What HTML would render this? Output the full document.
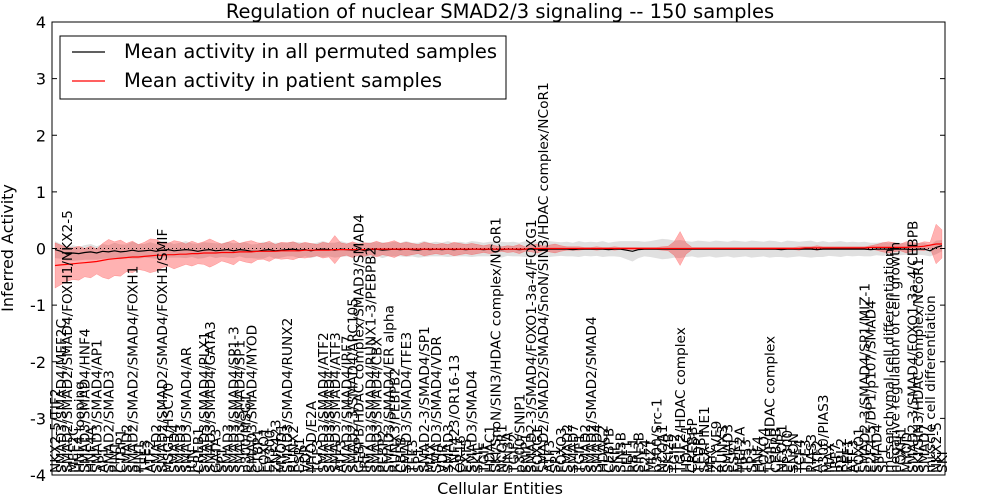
<!DOCTYPE html>
<html><head><meta charset="utf-8"><style>
html,body{margin:0;padding:0;background:#fff;}
svg{display:block;font-family:"DejaVu Sans","Liberation Sans",sans-serif;}
</style></head><body>
<svg id="chart" width="1000" height="500" viewBox="0 0 1000 500" xmlns="http://www.w3.org/2000/svg">
<rect x="0" y="0" width="1000" height="500" fill="#fff"/>
<text x="500" y="18" font-size="19.5" text-anchor="middle">Regulation of nuclear SMAD2/3 signaling -- 150 samples</text>
<g id="bands"></g>
<g id="lines"></g>
<g id="xlabels"></g>
<g id="yaxis"></g>
<rect x="52" y="22" width="893" height="453" fill="none" stroke="#000" stroke-width="1"/>
<text x="500" y="494" font-size="16" text-anchor="middle">Cellular Entities</text>
<text transform="translate(13,248) rotate(-90)" font-size="16" text-anchor="middle">Inferred Activity</text>
<g>
<rect x="60" y="36" width="446" height="63" fill="#fff" stroke="#000" stroke-width="1"/>
<line x1="72" y1="52" x2="105" y2="52" stroke="#000" stroke-width="1.2"/>
<text x="124" y="58" font-size="19.5">Mean activity in all permuted samples</text>
<line x1="72" y1="81" x2="105" y2="81" stroke="#f00" stroke-width="1.2"/>
<text x="124" y="87" font-size="19.5">Mean activity in patient samples</text>
</g>
</svg>
<script>
const yTicks = [4,3,2,1,0,-1,-2,-3,-4];
const labels = [
"NKX2-5/TIF2","SMAD3/SMAD4/MEF2C","SMAD2/SMAD2/SMAD4/FOXH1/NKX2-5","MEF2C","HNF4 looping","SMAD3/SMAD4/HNF4","HNF4A","SMAD3/SMAD4/AP1","AP1","SMAD2/SMAD3","PIN1","CTBP1","SMAD2","SMAD2/SMAD2/SMAD4/FOXH1","PIN1",
"TFE3","ATF2","SMAD2","SMAD2/SMAD2/SMAD4/FOXH1/SMIF","MSG1/HSC70","SMAD4","SMAD3","SMAD3/SMAD4/AR","JUN","CREB1","SMAD3/SMAD4/PLX1","SMAD3/SMAD4/GATA3","GATA3","SP1","SMAD3",
"SMAD3/SMAD4/SP1-3","SMAD3/SMAD4/SP1","p300/MSG1","SMAD3/SMAD4/MYOD","CTBP1","FOXO1","EP300","ZNF423","MYOD1","SMAD3/SMAD4/RUNX2","RUNX2","ESR1","VDR","MYOD/E2A","TCF3",
"SMAD3/SMAD4/ATF2","SMAD3/SMAD4","SMAD3/SMAD4/ATF3","ATF3","SMAD3/SMAD4/IRF7","SMAD2-3/SMAD4/ARC105","CEBPB/HDAC complex/SMAD3/SMAD4","IRF7","SMAD3/SMAD4/RUNX1-3/PEBPB2","SMAD3/SMAD4/CBX","PEBP2","SMAD3/SMAD4/ER alpha","RUNX3/PEBPB2","CBFB","SMAD3/SMAD4/TFE3",
"TFE3","SP1","SMAD2-3/SMAD4/SP1","MAX","SMAD3/SMAD4/VDR","VDR","SMAD3","ZNF423/OR16-13","OR16","EXT5","SMAD3/SMAD4","SKIL","TGIF","HDAC1","SKI/SnoN/SIN3/HDAC complex/NCoR1",
"NCOR1","SIN3A","TGIF2","p300/SNIP1","SNIP1","SMAD2-3/SMAD4/FOXO1-3a-4/FOXG1","FOXG1","SMAD2/SMAD2/SMAD4/SnoN/SIN3/HDAC complex/NCoR1","ATF3","SP1","FOXO3","SMAD2","SMAD7","TGIF1","SMAD2",
"SMAD2/SMAD2/SMAD4","SMAD4","HDAC2","CEBPB","SKIL","SIN3B","LEF1","RBL1","SIN3B","E2F4","MIZ1","p300/Src-1","NCOA1","SKI2B","TGIF2",
"TGIF2/HDAC complex","HDAC1","CREBBP","TFDP1","SERPINE1","MYC","ZFYVE9","RUNX3","SMAD3","ESR1","MEF2A","TP53","SP3","HNF4","FOXO4",
"TGIF/HDAC complex","CEBPB","NCOR1","EP300","SNON","TCF4","TFE3","PIAS3","ATF2","p300/PIAS3","MAX","IRF7","RBL2","EEF1","ATF3",
"FOXO1","SMAD2-3/SMAD4/SP1/MIZ-1","E2F4-5/DP1/p107/SMAD4","SMAD4","SP1","mesenchymal cell differentiation","negative regulation of cell growth","FOXH1","MYOD","SMAD2-3/SMAD4/FOXO1-3a-4/CEBPB","SKI/SIN3/HDAC complex/NCoR1","SMAD7","muscle cell differentiation","NKX2-5","SKI"
];
const redMean = [
-.30,-.29,-.28,-.27,-.26,-.25,-.24,-.23,-.21,-.19,-.18,-.17,-.16,-.15,-.15,
-.14,-.13,-.12,-.12,-.11,-.11,-.10,-.10,-.09,-.09,-.08,-.08,-.08,-.07,-.07,
-.07,-.06,-.06,-.06,-.05,-.05,-.05,-.05,-.04,-.04,-.04,-.04,-.03,-.03,-.03,
-.03,-.03,-.02,-.02,-.02,-.02,-.02,-.02,-.01,-.01,-.01,-.01,-.01,-.01,-.01,
-.01,-.01,-.01,-.01,-.01,-.01,-.01,-.01,-.01,-.01,-.01,-.01,-.01,-.01,-.01,
-.01,-.01,-.01,-.01,-.01,0,0,0,0,0,0,0,0,0,0,
0,0,0,0,0,0,0,0,0,0,0,0,0,0,0,
0,0,0,0,0,0,0,0,0,0,0,0,0,0,0,
0,0,0,0,0,0,.01,.01,.01,.01,.01,.01,.01,.01,.01,
.01,.01,.02,.02,.02,.02,.02,.02,.02,.03,.03,.04,.06,.08,.08];
const redHalf = [
.40,.35,.30,.28,.30,.25,.28,.22,.30,.35,.30,.32,.25,.28,.22,
.25,.30,.28,.22,.20,.25,.22,.18,.22,.18,.20,.25,.20,.15,.18,
.22,.15,.18,.20,.15,.14,.18,.12,.15,.14,.16,.12,.14,.12,.10,
.14,.12,.25,.12,.10,.14,.10,.12,.10,.14,.10,.12,.15,.10,.12,
.10,.08,.12,.10,.08,.10,.08,.12,.10,.08,.10,.08,.06,.08,.06,
.04,.06,.05,.08,.04,.06,.08,.04,.06,.08,.05,.03,.03,.03,.02,
.02,.03,.02,.02,.03,.02,.02,.02,.02,.02,.02,.02,.03,.04,.12,
.30,.10,.02,.02,.02,.02,.02,.02,.02,.02,.02,.02,.02,.02,.02,
.02,.02,.02,.02,.02,.03,.02,.02,.04,.02,.02,.02,.02,.02,.02,
.02,.02,.03,.05,.08,.10,.08,.06,.10,.08,.06,.08,.05,.35,.25];
const blackMean = [
-.02,-.05,-.10,-.08,-.09,-.07,-.06,-.08,-.05,-.06,-.04,-.06,-.05,-.03,-.05,
-.04,-.03,-.05,-.03,-.02,-.04,-.03,-.02,-.03,-.05,-.03,-.02,-.04,-.03,-.02,
-.04,-.02,-.03,-.05,-.05,-.03,-.02,-.04,-.03,-.02,-.01,-.03,-.02,-.04,-.02,
-.01,-.02,-.03,-.01,-.02,-.03,-.01,-.04,-.02,-.01,-.03,-.02,-.01,-.02,-.01,
-.02,-.03,-.01,-.02,-.01,-.02,-.01,-.02,-.01,-.02,-.01,-.01,-.02,-.01,-.01,
-.02,-.01,-.01,-.02,-.01,-.01,-.01,-.02,-.01,-.01,-.01,-.01,-.02,-.01,-.01,
-.01,-.01,-.01,-.02,-.01,-.01,-.03,-.05,-.02,-.01,-.01,-.01,-.01,-.01,-.01,
-.01,-.01,-.01,-.01,-.01,-.01,-.01,-.01,-.01,-.01,-.01,-.01,-.01,-.01,-.01,
-.01,-.01,-.02,-.01,-.01,-.01,-.01,-.01,-.02,-.01,-.01,-.01,-.01,-.01,-.01,
-.01,-.01,-.02,-.01,-.01,-.01,-.01,-.01,-.01,-.02,-.01,-.01,-.04,.02,.05];
const grayHalf = [
.15,.13,.12,.14,.12,.13,.14,.12,.13,.12,.14,.13,.12,.15,.13,
.12,.14,.13,.12,.14,.12,.13,.15,.12,.13,.14,.12,.13,.12,.14,
.13,.12,.14,.12,.13,.15,.12,.14,.13,.12,.13,.14,.12,.13,.12,
.14,.12,.13,.14,.12,.13,.12,.14,.13,.12,.14,.12,.13,.12,.14,
.12,.13,.14,.12,.13,.12,.14,.12,.13,.12,.14,.13,.12,.13,.12,
.14,.12,.13,.12,.14,.12,.13,.12,.14,.13,.12,.13,.12,.14,.12,
.13,.12,.14,.12,.13,.14,.16,.18,.15,.13,.14,.16,.18,.17,.15,
.16,.14,.13,.15,.14,.13,.15,.14,.13,.15,.14,.13,.15,.14,.13,
.15,.14,.13,.15,.14,.13,.14,.15,.13,.14,.12,.13,.14,.12,.13,
.12,.13,.12,.11,.12,.11,.12,.11,.10,.11,.10,.11,.10,.12,.10];

const NS = "http://www.w3.org/2000/svg";
const L = 52, R = 945, T = 22, B = 475, YMIN = -4, YMAX = 4;
const n = redMean.length;
function xs(i){ return L + (i + 0.5) * (R - L) / n; }
function ys(v){ return B - (v - YMIN) / (YMAX - YMIN) * (B - T); }
function mk(tag, attrs){ const e = document.createElementNS(NS, tag); for (const k in attrs) e.setAttribute(k, attrs[k]); return e; }
function bandPath(mean, half){
  let up = [], dn = [];
  for (let i = 0; i < mean.length; i++){ up.push(xs(i).toFixed(1) + "," + ys(mean[i] + half[i]).toFixed(1)); }
  for (let i = mean.length - 1; i >= 0; i--){ dn.push(xs(i).toFixed(1) + "," + ys(mean[i] - half[i]).toFixed(1)); }
  return "M" + up.join("L") + "L" + dn.join("L") + "Z";
}
function linePath(mean){
  return "M" + mean.map((v, i) => xs(i).toFixed(1) + "," + ys(v).toFixed(1)).join("L");
}
const bands = document.getElementById("bands");
const gb = mk("path", {d: bandPath(blackMean, grayHalf), fill: "#d6d6d6", "fill-opacity": "0.75", stroke: "none"});


bands.appendChild(gb);
const rb = mk("path", {d: bandPath(redMean, redHalf), fill: "#ff0000", "fill-opacity": "0.3", stroke: "#ff0000", "stroke-opacity": "0.3", "stroke-width": "0.5"});


bands.appendChild(rb);

const lines = document.getElementById("lines");
const zl = mk("line", {x1: L, x2: R, y1: ys(0), y2: ys(0), stroke: "#000", "stroke-width": "1", "stroke-dasharray": "1,3"});


lines.appendChild(zl);
const bl = mk("path", {d: linePath(blackMean), fill: "none", stroke: "#000", "stroke-width": "1.2"});


lines.appendChild(bl);
const rl = mk("path", {d: linePath(redMean), fill: "none", stroke: "#f00", "stroke-width": "1.2"});


lines.appendChild(rl);

const xg = document.getElementById("xlabels");
labels.forEach((lab, i) => {
  const x = xs(i) + 5;
  const t = mk("text", {transform: "translate(" + x.toFixed(1) + ",473) rotate(-90)", "font-size": "13.7"});
  t.textContent = lab;
  
  
  xg.appendChild(t);
});

const yg = document.getElementById("yaxis");
yTicks.forEach(v => {
  const y = ys(v);
  const t1 = mk("line", {x1: L, x2: L + 5, y1: y, y2: y, stroke: "#000"});
  
  
  yg.appendChild(t1);
  const t2 = mk("line", {x1: R - 5, x2: R, y1: y, y2: y, stroke: "#000"});
  
  
  yg.appendChild(t2);
  const tx = mk("text", {x: L - 6, y: y + 6, "font-size": "16", "text-anchor": "end"});
  tx.textContent = v;
  
  
  yg.appendChild(tx);
});
</script>
</body></html>
